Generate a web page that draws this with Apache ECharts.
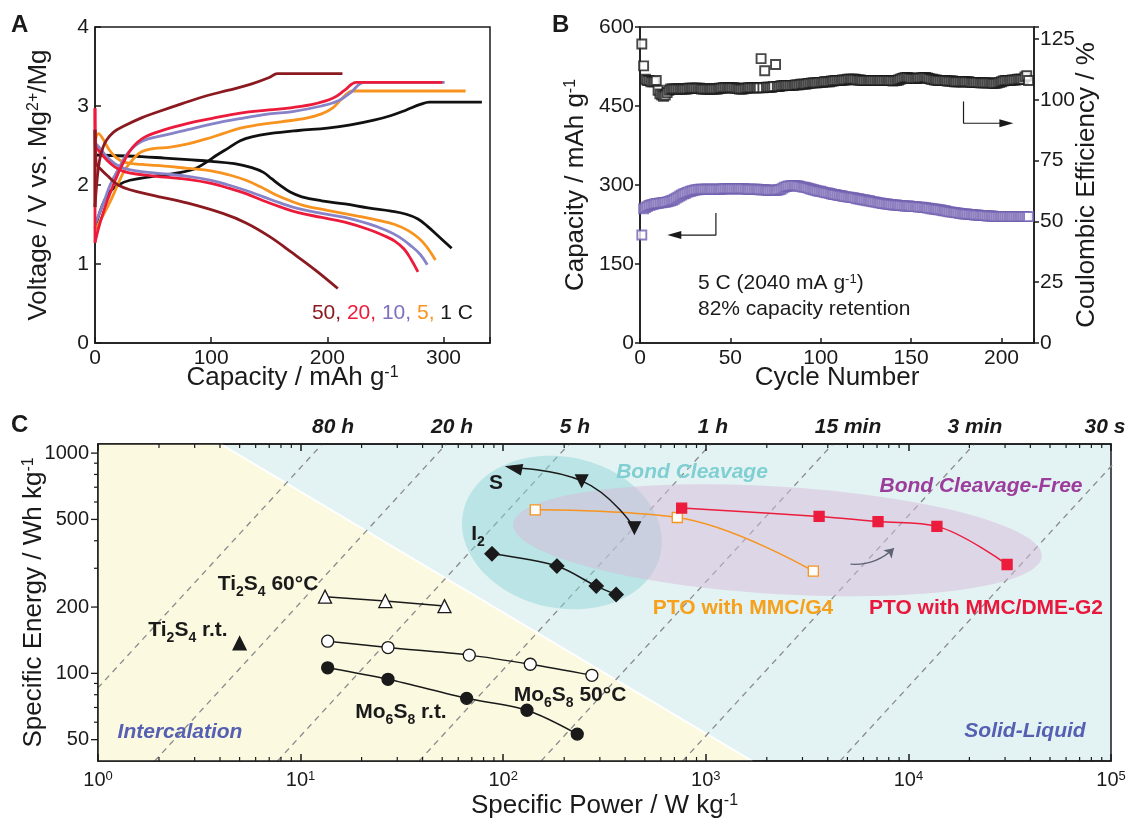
<!DOCTYPE html>
<html>
<head>
    <title>Mg battery performance</title>
    <meta charset="UTF-8">
    <script type="text/javascript" src="https://cdn.jsdelivr.net/npm/echarts@6/dist/echarts.min.js"></script>
    <style type="text/css">
        html, body { margin: 0; padding: 0; background: #fff; }
        #chart { width: 1130px; height: 818px; }
    </style>
</head>
<body>
<div id="chart"></div>
<script type="text/javascript">
var FONT = '"Liberation Sans", Arial, Helvetica, sans-serif';
var INK = '#1a1a1a';

// ---------- A: voltage profiles, [capacity mAh/g, voltage V]
var rateColors = ['#111111', '#f7931e', '#8783c8', '#ec1b3b', '#8b1a20'];   // 1, 5, 10, 20, 50 C
var dis1C = [[0,2.38],[20,2.37],[40,2.36],[60,2.34],[80,2.32],[100,2.3],[120,2.27],[135,2.22],[145,2.16],[152,2.08],[160,1.99],[168,1.91],[178,1.85],[195,1.8],[215,1.76],[235,1.71],[255,1.67],[268,1.63],[278,1.57],[286,1.48],[295,1.36],[307,1.2]];
var chg1C = [[0,1.45],[4,1.65],[8,1.8],[13,1.92],[20,2.0],[30,2.06],[50,2.11],[70,2.15],[85,2.2],[95,2.28],[105,2.38],[115,2.47],[125,2.56],[135,2.61],[150,2.65],[175,2.69],[200,2.72],[220,2.76],[240,2.82],[255,2.88],[268,2.95],[280,3.02],[288,3.05],[333,3.05]];
var dis5C = [[0,2.55],[3,2.65],[7,2.58],[12,2.45],[18,2.35],[25,2.29],[40,2.26],[60,2.24],[80,2.21],[100,2.18],[115,2.13],[130,2.06],[142,1.98],[155,1.88],[168,1.8],[180,1.74],[200,1.68],[225,1.61],[245,1.55],[258,1.5],[270,1.42],[282,1.28],[293,1.05]];
var chg5C = [[0,1.43],[5,1.56],[10,1.7],[15,1.85],[20,2.02],[26,2.2],[33,2.33],[40,2.42],[50,2.46],[65,2.48],[80,2.52],[95,2.58],[110,2.65],[125,2.72],[140,2.76],[160,2.8],[180,2.84],[195,2.9],[205,2.98],[213,3.1],[222,3.19],[319,3.19]];
var dis10C = [[0,2.53],[4,2.47],[10,2.36],[17,2.27],[25,2.21],[40,2.17],[60,2.14],[80,2.11],[100,2.06],[115,2.0],[130,1.93],[145,1.85],[160,1.77],[175,1.7],[195,1.64],[215,1.59],[235,1.51],[250,1.43],[262,1.34],[272,1.23],[280,1.12],[286,0.99]];
var chg10C = [[0,1.5],[4,1.65],[8,1.8],[13,2.0],[20,2.2],[28,2.4],[40,2.55],[60,2.63],[80,2.7],[100,2.77],[125,2.84],[150,2.9],[170,2.93],[195,3.0],[210,3.07],[220,3.17],[232,3.3],[301,3.3]];
var dis20C = [[0,2.97],[0.5,2.5],[4,2.42],[10,2.32],[17,2.23],[25,2.17],[40,2.13],[60,2.1],[80,2.07],[100,2.02],[115,1.96],[130,1.89],[145,1.8],[160,1.72],[175,1.65],[195,1.59],[215,1.53],[235,1.44],[250,1.35],[258,1.29],[266,1.19],[272,1.06],[278,0.9]];
var chg20C = [[0,1.27],[3,1.45],[6,1.6],[10,1.78],[15,1.97],[20,2.15],[25,2.3],[32,2.47],[42,2.6],[60,2.7],[80,2.78],[100,2.84],[125,2.91],[150,2.95],[170,2.98],[190,3.03],[205,3.1],[215,3.2],[225,3.3],[299,3.3]];
var dis50C = [[0,2.7],[1,2.28],[5,2.2],[12,2.1],[20,2.0],[30,1.94],[50,1.87],[80,1.77],[110,1.64],[130,1.52],[150,1.35],[170,1.14],[190,0.92],[209,0.69]];
var chg50C = [[0,1.72],[2,2.1],[4,2.32],[7,2.48],[10,2.57],[16,2.67],[24,2.74],[40,2.85],[55,2.93],[75,3.03],[96,3.13],[115,3.2],[135,3.28],[150,3.36],[157,3.41],[213,3.41]];
var curvesA = [[dis1C, chg1C], [dis5C, chg5C], [dis10C, chg10C], [dis20C, chg20C], [dis50C, chg50C]];
// voltage jump at zero capacity (rest between charge and discharge)
var rest20C = [[0,1.27],[0,2.97]];
var rest50C = [[0,1.72],[0,2.7]];

// ---------- B: cycling at 5 C
var capacityB = [
205,255,257,259,261,262,263,264,265,265,
266,266,267,267,268,269,270,271,273,275,
277,279,281,283,284,286,287,288,289,290,
291,291,292,292,292,292,292,292,292,292,
292,292,292,292,292,293,293,293,293,293,
293,293,293,293,293,293,293,293,292,292,
292,292,292,292,292,291,291,291,291,290,
290,290,290,290,290,290,291,292,294,296,
297,298,298,299,299,299,298,298,297,296,
296,295,294,293,292,291,290,289,288,288,
287,286,285,285,284,283,282,282,281,280,
280,279,278,278,277,277,276,276,275,274,
274,273,272,272,271,270,270,269,268,268,
267,266,266,265,265,264,264,263,263,262,
262,262,261,261,261,260,260,260,260,259,
259,259,259,258,258,258,257,257,256,256,
255,255,254,254,253,253,252,251,251,250,
249,249,248,248,247,247,246,246,245,245,
245,244,244,244,243,243,243,242,242,242,
242,241,241,241,241,240,240,240,240,240,
240,240,240,240,240,240,240,240,240,240,
240,240,240,240,240];
var efficiencyB = [
123,114,108.5,108,108,107.5,107.5,107.5,108,104,
102.5,102,101.5,102,103,104,104.5,104.5,104.5,104.5,
104.5,104.5,104.5,104.5,104.5,104.5,104.8,104.8,104.8,104.8,
104.8,104.8,104.8,104.5,104.5,104.5,104.5,104.5,104.5,104.5,
104.5,104.5,104.5,104.8,104.8,105,105,105,105,105,
105,105,104.8,104.8,104.5,104.5,104.5,104.8,104.8,105,
105,105,105,105,105,105,117,105,112,105.2,
105.2,105.2,105.2,105.5,114.6,105.5,105.5,105.8,105.8,106,
106,106,106,106,106,106.2,106.2,106.2,106.5,106.5,
106.5,106.5,106.8,106.8,107,107,107,107,107.2,107.2,
107.2,107.5,107.5,107.5,107.5,107.8,107.8,108,108,108,
108,108.2,108.2,108.2,108.5,108.5,108.5,108.5,108.5,108.2,
108.2,108.2,108,108,108,108,108,108,108,108,
108,108,108,108,108,108,108,108,108,107.8,
108,108,108.2,108.5,108.8,109,109.2,109.2,109,108.8,
108.8,108.8,108.8,109,109,109,109.2,109.2,109,108.8,
108.5,108.5,108.2,108.2,108,108,108,108,108,107.8,
107.8,107.8,107.8,107.5,107.5,107.5,107.5,107.5,107.5,107.5,
107.5,107.5,107.2,107.2,107.2,107.2,107.2,107,107,107,
107,107,107,107,106.8,106.8,106.8,107,107.2,107.5,
107.8,108,108,108,108,108.2,108.2,108.2,108.5,108.5,
108.5,108.5,109.5,110,108];
var capArrowB = [[42,247],[42,205],[19,205]];       // cycle, mAh/g
var ceArrowB = [[179,99.3],[179,90.4],[202.7,90.4]]; // cycle, %

// ---------- C: Ragone plot, [power W/kg, energy Wh/kg]
var powerRange = [1, 100000];
var energyRange = [40, 1100];
var ti2s4Hot = [[13.2,223],[26.2,213],[51.3,202]];
var ti2s4Rt = [[5.0,137]];
var mo6s8Hot = [[13.6,140],[27,131],[68,121],[136,110],[274,98]];
var mo6s8Rt = [[13.6,106],[27,94],[66,77],[131,68],[232,53]];
var sulfur = [[444,458],[244,748],[113,855]];
var iodine = [[88,349],[184,307],[288,249],[361,228]];
var ptoG4 = [[144,553],[723,510],[3394,291]];
var ptoDme = [[760,563],[3624,516],[7080,489],[13830,465],[30700,312]];
var isoHours = [86, 21, 5.2, 1.04, 0.26, 0.052, 0.0087];
var isoNames = ['80 h', '20 h', '5 h', '1 h', '15 min', '3 min', '30 s'];
var intercalationZone = [[1,40],[1,1100],[4.03,1100],[1694,40]];
// centre P, centre E, half width (decades), half height (decades), tilt (deg)
var bondCleavageZone = [195, 436, 0.498, 0.343, -12];
var bondFreeZone = [2258, 402, 1.307, 0.244, -3.5];
var trendArrow = [[5180,313],[8480,370]];
var decadesX = [1, 10, 100, 1000, 10000];
var minorMults = [2, 3, 4, 5, 6, 7, 8, 9];
var majorTicksY = [50, 100, 200, 500, 1000];
var minorTicksY = [60, 70, 80, 90, 300, 400, 600, 700, 800, 900];

var chart = echarts.init(document.getElementById('chart'));

function sup(size) {
    return { fontSize: size, fontFamily: FONT, color: INK, verticalAlign: 'top' };
}
function nameStyle(size) {
    return { color: INK, fontSize: size, fontFamily: FONT, rich: { sup: sup(Math.round(size * 0.62)) } };
}
var lineInk = { color: INK, width: 1.5 };

var series = [];

// A
function curveA(d, color, smooth) {
    return {
        type: 'line', xAxisIndex: 0, yAxisIndex: 0, data: d, smooth: smooth,
        symbol: 'none', silent: true, lineStyle: { color: color, width: 2.8 }
    };
}
curvesA.forEach(function (pair, i) {
    pair.forEach(function (d) { series.push(curveA(d, rateColors[i], 0.4)); });
});
series.push(curveA(rest20C, rateColors[3], 0));
series.push(curveA(rest50C, rateColors[4], 0));

// B
var cycleB = [];
for (var n = 1; n <= capacityB.length; n++) cycleB.push(n);
series.push({
    type: 'scatter', xAxisIndex: 1, yAxisIndex: 2, symbol: 'rect', symbolSize: 9, silent: true,
    data: cycleB.map(function (c, i) { return [c, efficiencyB[i]]; }),
    itemStyle: { color: '#fff', borderColor: INK, borderWidth: 1.9 }
});
series.push({
    type: 'scatter', xAxisIndex: 1, yAxisIndex: 1, symbol: 'rect', symbolSize: 9, silent: true,
    data: cycleB.map(function (c, i) { return [c, capacityB[i]]; }),
    itemStyle: { color: '#fff', borderColor: '#7260b0', borderWidth: 1.9 }
});
function elbow(points, yIdx, rot) {
    return {
        type: 'line', xAxisIndex: 1, yAxisIndex: yIdx, silent: true, z: 6,
        lineStyle: { color: INK, width: 1.2 }, itemStyle: { color: INK },
        data: points.map(function (p, i) {
            var last = i === points.length - 1;
            return { value: p, symbol: last ? 'triangle' : 'none', symbolSize: [8, 14], symbolRotate: rot };
        })
    };
}
series.push(elbow(capArrowB, 1, 90));
series.push(elbow(ceArrowB, 2, -90));

// C background zones
series.push({
    type: 'custom', xAxisIndex: 2, yAxisIndex: 3, z: 1, silent: true, data: [[1, 40]],
    renderItem: function (params, api) {
        var pts = intercalationZone.map(function (p) { return api.coord(p); });
        return {
            type: 'group', children: [
                { type: 'polygon', shape: { points: pts }, style: { fill: '#fcf9e1' } },
                { type: 'line', shape: { x1: pts[2][0], y1: pts[2][1], x2: pts[3][0], y2: pts[3][1] }, style: { stroke: '#ffffff', lineWidth: 2 } }
            ]
        };
    }
});
isoHours.forEach(function (t) {
    series.push({
        type: 'line', xAxisIndex: 2, yAxisIndex: 3, z: 2, silent: true, symbol: 'none',
        data: energyRange.map(function (e) { return [e / t, e]; }),
        lineStyle: { color: '#8a8a8a', width: 1.3, type: [6, 5] }
    });
});
var zones = [bondCleavageZone, bondFreeZone];
var zoneFills = ['rgba(140,210,212,0.47)', 'rgba(215,185,217,0.5)'];
series.push({
    type: 'custom', xAxisIndex: 2, yAxisIndex: 3, z: 3, silent: true,
    data: zones.map(function (e) { return [e[0], e[1]]; }),
    renderItem: function (params, api) {
        var e = zones[params.dataIndex];
        var c = api.coord([e[0], e[1]]);
        var rx = api.coord([e[0] * Math.pow(10, e[2]), e[1]])[0] - c[0];
        var ry = c[1] - api.coord([e[0], e[1] * Math.pow(10, e[3])])[1];
        var t = e[4] * Math.PI / 180;
        var pts = [];
        for (var k = 0; k < 96; k++) {
            var a = k / 96 * 2 * Math.PI;
            var ex = rx * Math.cos(a), ey = ry * Math.sin(a);
            pts.push([c[0] + ex * Math.cos(t) + ey * Math.sin(t), c[1] - ex * Math.sin(t) + ey * Math.cos(t)]);
        }
        return { type: 'polygon', shape: { points: pts }, style: { fill: zoneFills[params.dataIndex] } };
    }
});

// C data
function ragone(data, sym, size, fill, stroke, smooth) {
    return {
        type: 'line', xAxisIndex: 2, yAxisIndex: 3, z: 5, silent: true, data: data,
        symbol: sym, symbolSize: size, showSymbol: true, smooth: smooth,
        lineStyle: { color: stroke, width: 1.5 },
        itemStyle: { color: fill, borderColor: stroke, borderWidth: 1.3 }
    };
}
series.push(ragone(ti2s4Hot, 'triangle', 13, '#fff', INK, 0));
series.push(ragone(ti2s4Rt, 'triangle', 13, INK, INK, 0));
series.push(ragone(mo6s8Hot, 'circle', 12, '#fff', INK, 0.3));
series.push(ragone(mo6s8Rt, 'circle', 12, INK, INK, 0.3));
series.push(ragone(iodine, 'diamond', 14, INK, INK, 0.3));
series.push(ragone(ptoG4, 'rect', 10, '#fff', '#f7941d', 0.4));
series.push(ragone(ptoDme, 'rect', 10, '#ec1c3c', '#ec1c3c', 0.35));
var sLine = ragone(sulfur, 'triangle', 12, INK, INK, 0.5);
sLine.data = sulfur.map(function (p, i) {
    var last = i === sulfur.length - 1;
    return { value: p, symbolRotate: last ? 78 : 180, symbolSize: last ? [10, 15] : 12 };
});
series.push(sLine);
series.push({
    type: 'lines', coordinateSystem: 'cartesian2d', xAxisIndex: 2, yAxisIndex: 3, z: 5, silent: true,
    symbol: ['none', 'arrow'], symbolSize: 9,
    lineStyle: { color: '#5e6272', width: 1.3, opacity: 1, curveness: -0.22 },
    data: [{ coords: trendArrow }]
});

// C ticks drawn on the log scales
var minorX = [];
decadesX.forEach(function (d) { minorMults.forEach(function (m) { minorX.push(d * m); }); });
series.push({
    type: 'custom', xAxisIndex: 2, yAxisIndex: 3, z: 12, silent: true,
    data: minorX.map(function (v) { return [v, energyRange[0]]; }),
    renderItem: function (params, api) {
        var cs = params.coordSys;
        var x = api.coord([api.value(0), energyRange[0]])[0];
        var st = { stroke: INK, lineWidth: 1.2 };
        return {
            type: 'group', children: [
                { type: 'line', shape: { x1: x, y1: cs.y + cs.height, x2: x, y2: cs.y + cs.height - 4 }, style: st },
                { type: 'line', shape: { x1: x, y1: cs.y, x2: x, y2: cs.y + 4 }, style: st }
            ]
        };
    }
});
series.push({
    type: 'custom', xAxisIndex: 2, yAxisIndex: 3, z: 12, silent: true,
    data: minorTicksY.map(function (v) { return [powerRange[0], v]; }),
    renderItem: function (params, api) {
        var cs = params.coordSys;
        var y = api.coord([powerRange[0], api.value(1)])[1];
        return { type: 'line', shape: { x1: cs.x - 4, y1: y, x2: cs.x, y2: y }, style: { stroke: INK, lineWidth: 1.2 } };
    }
});
series.push({
    type: 'custom', xAxisIndex: 2, yAxisIndex: 3, z: 12, silent: true,
    data: majorTicksY.map(function (v) { return [powerRange[0], v]; }),
    renderItem: function (params, api) {
        var cs = params.coordSys;
        var v = api.value(1);
        var y = api.coord([powerRange[0], v])[1];
        return {
            type: 'group', children: [
                { type: 'line', shape: { x1: cs.x - 7, y1: y, x2: cs.x, y2: y }, style: { stroke: INK, lineWidth: 1.3 } },
                { type: 'text', x: cs.x - 9, y: y, style: { text: String(v), fontFamily: FONT, fontSize: 20, fill: INK, align: 'right', verticalAlign: 'middle' } }
            ]
        };
    }
});

// annotations
function txt(x, y, text, extra) {
    var s = { text: text, fontFamily: FONT, fontSize: 21, fill: INK, align: 'center', verticalAlign: 'middle' };
    for (var k in extra) s[k] = extra[k];
    return { type: 'text', x: x, y: y, z: 100, silent: true, style: s };
}
function tok(size, color, weight, style, va) {
    return { fontSize: size, fontFamily: FONT, fill: color, fontWeight: weight || 'normal', fontStyle: style || 'normal', verticalAlign: va || 'middle' };
}
var bold = { fontWeight: 'bold' };
var subTok = tok(14, INK, 'bold', 'normal', 'bottom');
subTok.lineHeight = 14;
var subRich = { rich: { s: subTok }, fontWeight: 'bold', lineHeight: 30 };
var isoLabelX = [333, 452, 575, 713, 848, 975, 1105];

var graphics = [
    txt(11, 25, 'A', { fontWeight: 'bold', fontSize: 24, align: 'left' }),
    txt(552, 25, 'B', { fontWeight: 'bold', fontSize: 24, align: 'left' }),
    txt(11, 425, 'C', { fontWeight: 'bold', fontSize: 24, align: 'left' }),
    txt(473, 313, '{a|50,} {b|20,} {c|10,} {d|5,} {e|1 C}', {
        align: 'right',
        rich: { a: tok(21, rateColors[4]), b: tok(21, rateColors[3]), c: tok(21, '#7d70c0'), d: tok(21, rateColors[1]), e: tok(21, INK) }
    }),
    txt(698, 283, '5 C (2040 mA g{u|-1})', { align: 'left', rich: { u: tok(13, INK, 'normal', 'normal', 'top') } }),
    txt(698, 309, '82% capacity retention', { align: 'left' }),
    txt(692, 472, 'Bond Cleavage', { fontWeight: 'bold', fontStyle: 'italic', fill: '#80cfd2' }),
    txt(981, 486, 'Bond Cleavage-Free', { fontWeight: 'bold', fontStyle: 'italic', fill: '#9c3d9c' }),
    txt(180, 732, 'Intercalation', { fontWeight: 'bold', fontStyle: 'italic', fill: '#5560b2' }),
    txt(1025, 731, 'Solid-Liquid', { fontWeight: 'bold', fontStyle: 'italic', fill: '#5560b2' }),
    txt(743, 608, 'PTO with MMC/G4', { fontWeight: 'bold', fill: '#f6a01b' }),
    txt(986, 608, 'PTO with MMC/DME-G2', { fontWeight: 'bold', fill: '#ea173d' }),
    txt(496, 483, 'S', bold),
    txt(478, 534, 'I{s|2}', subRich),
    txt(268, 584, 'Ti{s|2}S{s|4} 60°C', subRich),
    txt(188, 630, 'Ti{s|2}S{s|4} r.t.', subRich),
    txt(401, 712, 'Mo{s|6}S{s|8} r.t.', subRich),
    txt(570, 695, 'Mo{s|6}S{s|8} 50°C', subRich)
];
isoNames.forEach(function (name, i) {
    graphics.push(txt(isoLabelX[i], 427, name, { fontWeight: 'bold', fontStyle: 'italic' }));
});

var gridBase = { show: true, borderColor: INK, borderWidth: 1.5, containLabel: false, outerBoundsMode: 'none' };
function grid(l, t, w, h, bg) {
    var g = { left: l, top: t, width: w, height: h, backgroundColor: bg || 'transparent' };
    for (var k in gridBase) g[k] = gridBase[k];
    return g;
}
function everyN(step) {
    return function (v) { return Math.abs(v % step) < 1e-6 ? String(v) : ''; };
}
var tickLabel = { color: INK, fontSize: 21, fontFamily: FONT, margin: 6 };
function label(extra) {
    var o = {};
    for (var k in tickLabel) o[k] = tickLabel[k];
    for (var j in extra) o[j] = extra[j];
    return o;
}

var option = {
    animation: false,
    backgroundColor: '#ffffff',
    textStyle: { fontFamily: FONT },
    grid: [grid(95, 27, 395, 316), grid(640, 27, 394, 316), grid(98, 444, 1013, 317, '#e3f3f3')],
    xAxis: [
        {
            gridIndex: 0, type: 'value', min: 0, max: 340, interval: 100,
            axisLine: { lineStyle: lineInk }, splitLine: { show: false },
            axisTick: { inside: true, length: 6, lineStyle: lineInk },
            axisLabel: label({ formatter: everyN(100), margin: 5 }),
            name: 'Capacity / mAh g{sup|-1}', nameLocation: 'middle', nameGap: 22, nameMoveOverlap: false,
            nameTextStyle: nameStyle(26)
        },
        {
            gridIndex: 1, type: 'value', min: 0, max: 218, interval: 50,
            axisLine: { lineStyle: lineInk }, splitLine: { show: false },
            axisTick: { inside: true, length: 5, lineStyle: lineInk },
            axisLabel: label({ formatter: everyN(50), margin: 5 }),
            name: 'Cycle Number', nameLocation: 'middle', nameGap: 22, nameMoveOverlap: false,
            nameTextStyle: nameStyle(26)
        },
        {
            gridIndex: 2, type: 'log', logBase: 10, min: powerRange[0], max: powerRange[1], z: 10,
            axisLine: { lineStyle: lineInk }, splitLine: { show: false }, minorTick: { show: false },
            axisTick: { inside: true, length: 7, lineStyle: lineInk },
            axisLabel: {
                color: INK, fontSize: 20, fontFamily: FONT, margin: 9,
                formatter: function (v) { return '10{sup|' + Math.round(Math.log(v) / Math.LN10) + '}'; },
                rich: { sup: sup(13) }
            },
            name: 'Specific Power / W kg{sup|-1}', nameLocation: 'middle', nameGap: 32, nameMoveOverlap: false,
            nameTextStyle: nameStyle(26)
        },
        {
            gridIndex: 2, type: 'log', logBase: 10, position: 'top', min: powerRange[0], max: powerRange[1], z: 10,
            axisLine: { lineStyle: lineInk }, splitLine: { show: false },
            axisTick: { inside: true, length: 7, lineStyle: lineInk },
            axisLabel: { show: false }
        }
    ],
    yAxis: [
        {
            gridIndex: 0, type: 'value', min: 0, max: 4, interval: 1,
            axisLine: { lineStyle: lineInk }, splitLine: { show: false },
            axisTick: { inside: true, length: 6, lineStyle: lineInk },
            axisLabel: label({}),
            name: 'Voltage / V vs. Mg{sup|2+}/Mg', nameLocation: 'middle', nameGap: 43, nameMoveOverlap: false,
            nameTextStyle: nameStyle(26)
        },
        {
            gridIndex: 1, type: 'value', min: 0, max: 600, interval: 150,
            axisLine: { lineStyle: lineInk }, splitLine: { show: false },
            axisTick: { inside: false, length: 5, lineStyle: lineInk },
            axisLabel: label({}),
            name: 'Capacity / mAh g{sup|-1}', nameLocation: 'middle', nameGap: 51, nameMoveOverlap: false,
            nameTextStyle: nameStyle(26)
        },
        {
            gridIndex: 1, type: 'value', position: 'right', min: 0, max: 130, interval: 25,
            axisLine: { lineStyle: lineInk }, splitLine: { show: false },
            axisTick: { inside: false, length: 5, lineStyle: lineInk },
            axisLabel: label({ formatter: everyN(25) }),
            name: 'Coulombic Efficiency / %', nameLocation: 'middle', nameGap: 40, nameMoveOverlap: false,
            nameTextStyle: nameStyle(26)
        },
        {
            gridIndex: 2, type: 'log', logBase: 10, min: energyRange[0], max: energyRange[1], z: 10,
            axisLine: { lineStyle: lineInk }, splitLine: { show: false },
            axisTick: { show: false }, axisLabel: { show: false }, minorTick: { show: false },
            name: 'Specific Energy / Wh kg{sup|-1}', nameLocation: 'middle', nameGap: 51, nameMoveOverlap: false,
            nameTextStyle: nameStyle(26)
        }
    ],
    graphic: graphics,
    series: series
};
chart.setOption(option);
</script>
</body>
</html>
